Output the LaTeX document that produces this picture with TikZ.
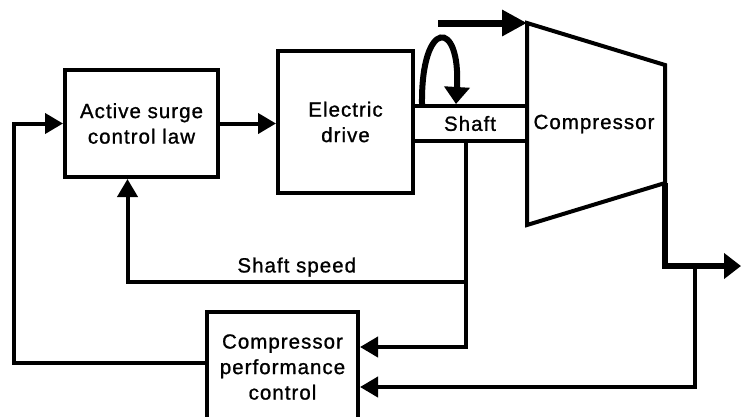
\documentclass[tikz,border=0pt]{standalone}
\usepackage{fontspec}
\setmainfont[LetterSpace=5, FakeBold=1]{Liberation Sans}
\usetikzlibrary{arrows.meta}
\tikzset{every picture/.style={line width=4pt}}

\begin{document}
\begin{tikzpicture}[x=1pt, y=-1pt, line join=miter, font=\fontsize{20.5}{25.5}\selectfont,
	>={Triangle[length=18pt,width=20pt]},
	blok/.style={draw, align=center, inner sep=0pt}]
	\useasboundingbox (0,0) rectangle (741,416);
	\node[blok, minimum width=153pt, minimum height=107pt] (surge) at (141.5,123.5) {Active surge\\control law};
	\node[blok, minimum width=135pt, minimum height=142pt] (drive) at (345.5,122) {Electric\\drive};
	\node[blok, minimum width=114pt, minimum height=35pt] (shaft) at (470,123.5) {Shaft};
	\node[blok, minimum width=151pt, minimum height=110pt] (cpc) at (282.5,367) {Compressor\\performance\\control};
	\path
	(527,23) coordinate (C1)
	(665,65) coordinate (C2)
	(665,183) coordinate (C3)
	(527,225) coordinate (C4)
	(438,23) coordinate (in)
	(741,266) coordinate (out)
	(695,266) coordinate (br)
	(466,282) coordinate (tap)
	(14,363) coordinate (lc);
	\draw (C1)--(C2)--(C3)--(C4)--cycle;
	\node (comp) at (594,124) {Compressor};
	\draw[line width=7pt, -{Triangle[length=25pt,width=25pt]}] (in)--(C1);
	\draw[line width=6pt, -{Triangle[length=17pt,width=25pt]}] (C3)|-(out);
	\draw[line width=6pt, -{Triangle[length=17pt,width=25pt]}] ([xshift=-48pt]shaft.north) .. controls ([xshift=-49pt,yshift=86pt]shaft.north) and ([xshift=-9pt,yshift=86pt]shaft.north) .. ([xshift=-14pt]shaft.north);
	\draw[->] (surge.east)--(surge.east -| drive.west);
	\draw[->] ([xshift=-4pt]shaft.south)|-([yshift=20pt]cpc.east);
	\draw[->] (tap)-|([xshift=-14pt]surge.south) node[pos=0.25, above=0pt, text=black] (speed) {Shaft speed};
	\draw[->] (br)|-([yshift=-20pt]cpc.east);
	\draw[->] ([yshift=4pt]cpc.west)--(lc)|-(surge.west);
\end{tikzpicture}
\end{document}
